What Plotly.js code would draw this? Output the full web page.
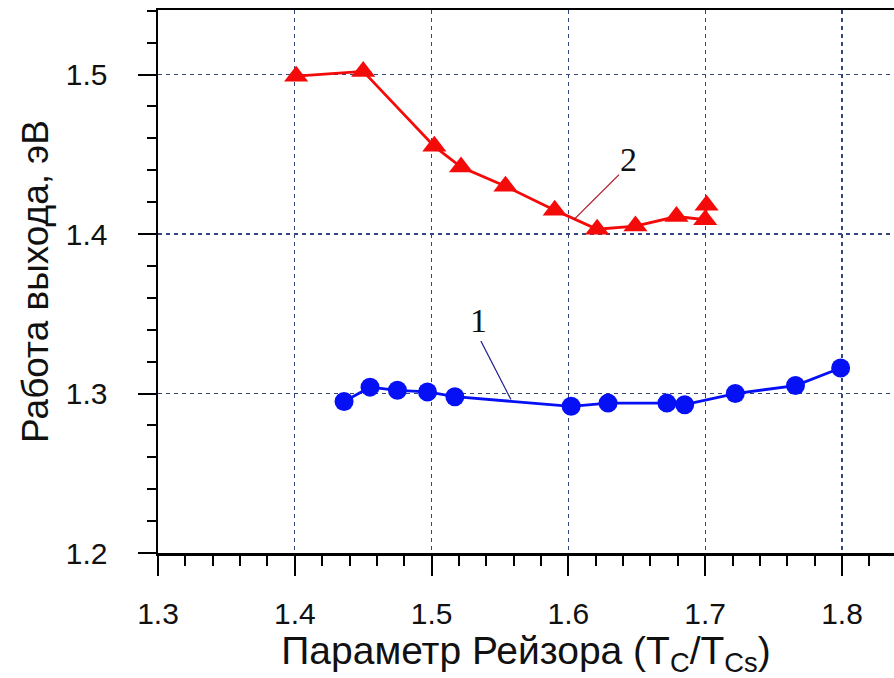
<!DOCTYPE html>
<html>
<head>
<meta charset="utf-8">
<script src="https://cdn.plot.ly/plotly-3.0.1.min.js"></script>
<style>html,body{margin:0;padding:0;background:#fff;}#chart{width:894px;height:678px;}</style>
</head>
<body>
<div id="chart"></div>
<script>
// Series 1 (blue circles)
const x1 = [1.436, 1.455, 1.475, 1.497, 1.517, 1.602, 1.629, 1.672, 1.685, 1.722, 1.766, 1.799];
const y1 = [1.295, 1.304, 1.302, 1.301, 1.298, 1.292, 1.294, 1.294, 1.293, 1.300, 1.305, 1.316];
// Series 2 (red triangles)
const x2 = [1.401, 1.450, 1.502, 1.5215, 1.554, 1.590, 1.621, 1.649, 1.679, 1.700, 1.701];
const y2 = [1.499, 1.502, 1.455, 1.442, 1.430, 1.415, 1.403, 1.405, 1.411, 1.409, 1.418];
// Curve labels
const labelText = ["1", "2"];
const labelX = [1.534, 1.6436];
const labelY = [1.346, 1.447];
const leaderX0 = [1.536, 1.637];
const leaderY0 = [1.333, 1.4373];
const leaderX1 = [1.558, 1.604];
const leaderY1 = [1.2962, 1.409];
const leaderColors = ["#1a1a8c", "#b01020"];

const xTickVals = [1.3, 1.4, 1.5, 1.6, 1.7, 1.8];
const yTickVals = [1.2, 1.3, 1.4, 1.5];

const traces = [
  {x: x1, y: y1, mode: 'lines+markers', type: 'scatter',
   line: {color: '#0510f5', width: 2.8},
   marker: {symbol: 'circle', size: 19, color: '#0510f5'}},
  {x: x2, y: y2, mode: 'lines+markers', type: 'scatter',
   line: {color: '#f50a0a', width: 2.8},
   marker: {symbol: 'triangle-up', size: 21, color: '#f50a0a'}}
];

const gridColor = '#34467a';
const tickFont = {family: 'Liberation Sans, Arial, sans-serif', size: 30, color: '#111'};

const layout = {
  width: 894, height: 678,
  margin: {l: 158, r: 0, t: 10, b: 125},
  paper_bgcolor: '#fff', plot_bgcolor: '#fff',
  showlegend: false,
  xaxis: {
    range: [1.3, 1.838],
    tickvals: xTickVals,
    ticktext: xTickVals.map(v => v.toFixed(1)),
    ticks: 'outside', ticklen: 20, tickwidth: 2, tickcolor: '#000',
    ticklabelstandoff: 12,
    minor: {dtick: 0.02, tick0: 1.3, ticks: 'outside', ticklen: 10, tickwidth: 2, tickcolor: '#000', showgrid: false},
    showline: true, linecolor: '#000', linewidth: 2.5, mirror: true,
    showgrid: true, gridcolor: gridColor, gridwidth: 1.3, griddash: '4px,4px',
    zeroline: false,
    tickfont: tickFont,
    title: {text: 'Параметр Рейзора (T<sub>C</sub>/T<sub>Cs</sub>)',
            font: {family: 'Liberation Sans, Arial, sans-serif', size: 39, color: '#111'},
            standoff: 2}
  },
  yaxis: {
    range: [1.2, 1.5405],
    tickvals: yTickVals,
    ticktext: yTickVals.map(v => v.toFixed(1)),
    ticks: 'outside', ticklen: 18, tickwidth: 2, tickcolor: '#000',
    ticklabelstandoff: 24,
    minor: {dtick: 0.02, tick0: 1.2, ticks: 'outside', ticklen: 9, tickwidth: 2, tickcolor: '#000', showgrid: false},
    showline: true, linecolor: '#000', linewidth: 2.5,
    showgrid: true, gridcolor: gridColor, gridwidth: 1.3, griddash: '4px,4px',
    zeroline: false,
    tickfont: tickFont,
    title: {text: 'Работа выхода, эВ',
            font: {family: 'Liberation Sans, Arial, sans-serif', size: 37, color: '#111'},
            standoff: 6}
  },
  shapes: leaderX0.map((x0, i) => ({
    type: 'line', xref: 'x', yref: 'y',
    x0: x0, y0: leaderY0[i], x1: leaderX1[i], y1: leaderY1[i],
    line: {color: leaderColors[i], width: 1.2}
  })),
  annotations: labelText.map((t, i) => ({
    x: labelX[i], y: labelY[i], xref: 'x', yref: 'y',
    text: t, showarrow: false,
    font: {family: 'Liberation Serif, Times New Roman, serif', size: 34, color: '#111'}
  }))
};

Plotly.newPlot('chart', traces, layout, {displayModeBar: false, staticPlot: true});
</script>
</body>
</html>
